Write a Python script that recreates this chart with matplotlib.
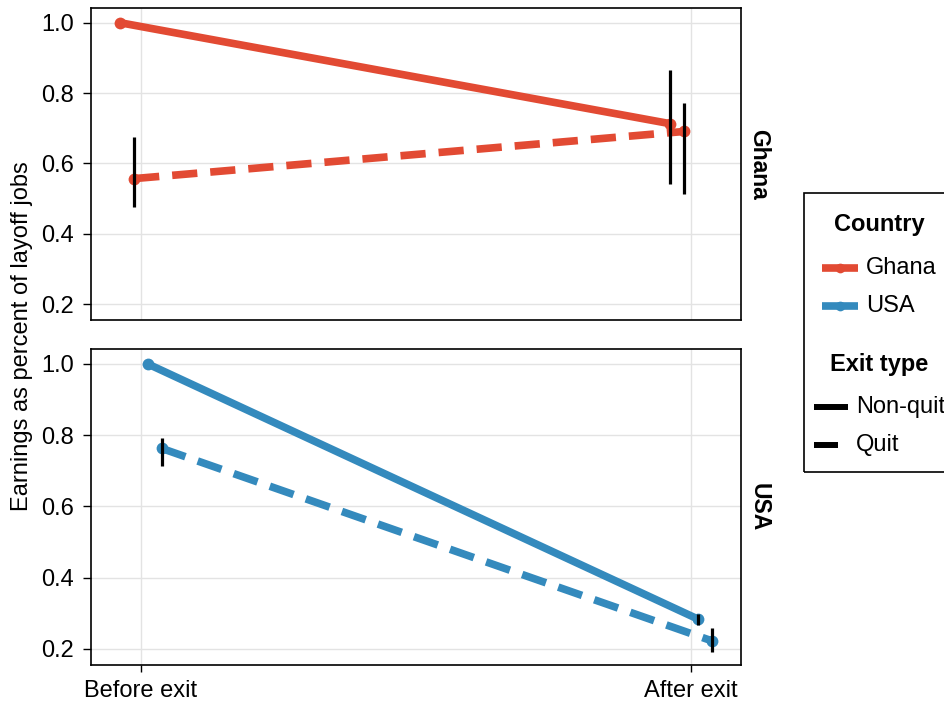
import matplotlib
matplotlib.use("Agg")
import matplotlib.pyplot as plt
from matplotlib.lines import Line2D
from matplotlib.patches import Rectangle

plt.rcParams['font.family'] = ['Liberation Sans', 'DejaVu Sans']

# ---- data ----
periods = ["Before exit", "After exit"]
countries = ["Ghana", "USA"]
exit_types = ["Non-quit", "Quit"]

ghana_nonquit = [1.0, 0.713]
ghana_nonquit_lo = [None, 0.543]
ghana_nonquit_hi = [None, 0.867]
ghana_quit = [0.557, 0.691]
ghana_quit_lo = [0.475, 0.512]
ghana_quit_hi = [0.674, 0.773]

usa_nonquit = [1.0, 0.284]
usa_nonquit_lo = [None, 0.268]
usa_nonquit_hi = [None, 0.298]
usa_quit = [0.763, 0.223]
usa_quit_lo = [0.713, 0.192]
usa_quit_hi = [0.792, 0.259]

colors = {"Ghana": "#E24A33", "USA": "#348ABD"}
dodge = {("Ghana", "Non-quit"): -0.0375, ("Ghana", "Quit"): -0.0125,
         ("USA", "Non-quit"): 0.0125, ("USA", "Quit"): 0.0375}

series = {
    ("Ghana", "Non-quit"): (ghana_nonquit, ghana_nonquit_lo, ghana_nonquit_hi),
    ("Ghana", "Quit"): (ghana_quit, ghana_quit_lo, ghana_quit_hi),
    ("USA", "Non-quit"): (usa_nonquit, usa_nonquit_lo, usa_nonquit_hi),
    ("USA", "Quit"): (usa_quit, usa_quit_lo, usa_quit_hi),
}

W, H = 945, 706
FS = 17
fig = plt.figure(figsize=(W / 100, H / 100), dpi=100)

def box(x0, y0, x1, y1):
    return [x0 / W, 1 - y1 / H, (x1 - x0) / W, (y1 - y0) / H]

def fx(px):
    return px / W

def fy(py):
    return 1 - py / H

ax_top = fig.add_axes(box(91, 8, 741, 320))
ax_bot = fig.add_axes(box(91, 349, 741, 665))
axes = {"Ghana": ax_top, "USA": ax_bot}

dash = (0, (3.3, 1.7))
xpos = [1, 2]
for (c, e), (vals, lo, hi) in series.items():
    ax = axes[c]
    xs = [x + dodge[(c, e)] for x in xpos]
    ax.plot(xs, vals, color=colors[c], lw=5.5,
            linestyle='-' if e == "Non-quit" else dash,
            solid_capstyle='butt', dash_capstyle='butt', zorder=3)
    ax.plot(xs, vals, 'o', color=colors[c], ms=8.5, zorder=4, mec='none')
    for x, l, h in zip(xs, lo, hi):
        if l is not None:
            ax.vlines(x, l, h, color='black', lw=2.3, zorder=5)

for c, ax in axes.items():
    ax.set_xlim(1 - 50 / 550, 2 + 50 / 550)
    ax.set_ylim(0.155, 1.042)
    ax.set_yticks([0.2, 0.4, 0.6, 0.8, 1.0])
    ax.set_yticklabels(["0.2", "0.4", "0.6", "0.8", "1.0"])
    ax.set_xticks(xpos)
    ax.grid(True, color='#e3e3e3', lw=1, zorder=0)
    ax.set_axisbelow(True)
    for s in ax.spines.values():
        s.set_linewidth(1.2)
        s.set_color('black')
    ax.tick_params(axis='y', labelsize=FS, length=5.5, width=1, pad=6.5)
    ax.tick_params(axis='x', labelsize=FS, length=5, width=1, pad=6)
    ax.text(1.0277, 0.5, c, transform=ax.transAxes, rotation=-90,
            ha='center', va='center', fontsize=FS - 0.5, fontweight='bold')

ax_top.tick_params(axis='x', labelbottom=False, length=0)
ax_bot.set_xticklabels(periods)

fig.text(fx(22), fy(336), "Earnings as percent of layoff jobs",
         rotation=90, ha='center', va='center', fontsize=FS)

# ---- legend (manual) ----
fig.add_artist(Rectangle((fx(804), fy(472)), 160 / W, 279 / H,
                         transform=fig.transFigure, fill=False,
                         edgecolor='black', lw=1.2))

fig.text(fx(879), fy(225), "Country", ha='center', va='center',
         fontsize=FS, fontweight='bold')
for c, yy in zip(countries, [268, 306]):
    fig.add_artist(Line2D([fx(822), fx(858)], [fy(yy), fy(yy)],
                          transform=fig.transFigure, color=colors[c], lw=5.5,
                          solid_capstyle='butt'))
    fig.add_artist(Line2D([fx(840)], [fy(yy)], transform=fig.transFigure,
                          color=colors[c], marker='o', ms=7, mec='none'))
    fig.text(fx(866), fy(yy), c, ha='left', va='center', fontsize=FS)

fig.text(fx(879), fy(364), "Exit type", ha='center', va='center',
         fontsize=FS, fontweight='bold')
for e, yy, x1 in zip(exit_types, [407, 445], [848, 838]):
    fig.add_artist(Line2D([fx(814), fx(x1)], [fy(yy), fy(yy)],
                          transform=fig.transFigure, color='black', lw=4.3,
                          solid_capstyle='butt'))
    fig.text(fx(856), fy(yy), e, ha='left', va='center', fontsize=FS)

fig.savefig("out.png", dpi=100)
